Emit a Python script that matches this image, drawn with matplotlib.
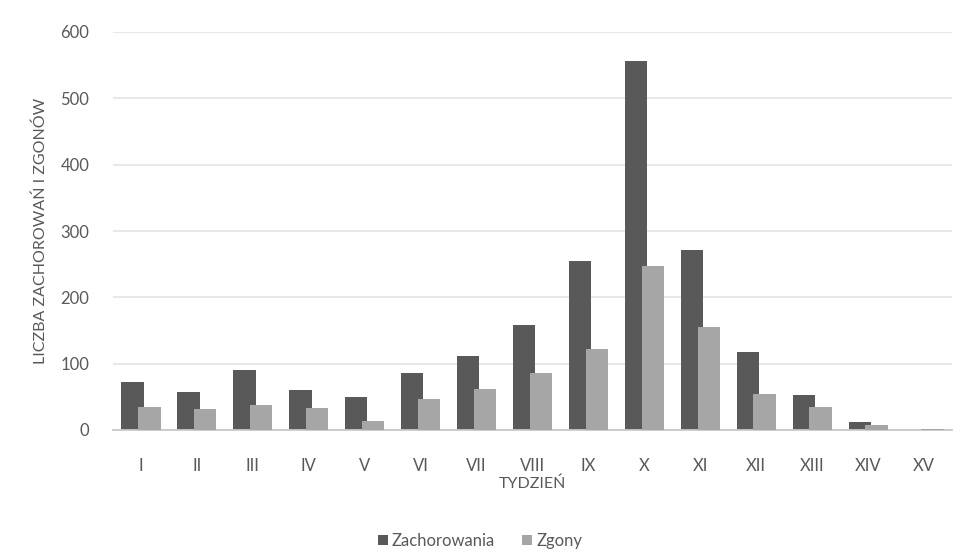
import matplotlib.pyplot as plt
import numpy as np

# weekly data
weeks = ["I", "II", "III", "IV", "V", "VI", "VII", "VIII", "IX", "X",
         "XI", "XII", "XIII", "XIV", "XV"]
zachorowania = [73, 58, 90, 60, 50, 86, 112, 159, 255, 557, 272, 117, 53, 12, 0]
zgony = [35, 32, 38, 33, 13, 46, 62, 86, 122, 247, 155, 55, 34, 8, 2]

plt.rcParams['font.family'] = ['Lato', 'DejaVu Sans']
txt = "#595959"

fig = plt.figure(figsize=(9.66, 5.52), dpi=100)
ax = fig.add_axes([113/966, 1 - 430/552, (952 - 113)/966, (430 - 32)/552])

x = np.arange(len(weeks))
w = 0.4
ax.bar(x - 0.15, zachorowania, w, color="#595959", label="Zachorowania", zorder=2)
ax.bar(x + 0.15, zgony, w, color="#a6a6a6", label="Zgony", zorder=3)

ax.set_xlim(-0.5, len(weeks) - 0.5)
ax.set_ylim(0, 600)
ax.set_yticks(range(0, 601, 100))
ax.yaxis.grid(True, color="#e6e6e6", linewidth=1.3, zorder=0)
ax.set_axisbelow(True)

for s in ["top", "right", "left"]:
    ax.spines[s].set_visible(False)
ax.spines["bottom"].set_color("#c8c8c8")
ax.spines["bottom"].set_linewidth(1.3)

ax.set_xticks(x)
ax.set_xticklabels(weeks)
ax.tick_params(axis="both", length=0, labelsize=12, labelcolor=txt)
ax.tick_params(axis="x", pad=20)
ax.tick_params(axis="y", pad=17)

ax.set_xlabel("TYDZIEŃ", fontsize=11.5, color=txt, labelpad=2)
ax.set_ylabel("LICZBA ZACHOROWAŃ I ZGONÓW", fontsize=11.5, color=txt, labelpad=9)

fig.legend(loc="center", bbox_to_anchor=(480/966, 1 - 541/552), ncol=2,
           frameon=False, fontsize=12, labelcolor=txt, handlelength=0.6,
           handleheight=0.6, handletextpad=0.25, columnspacing=1.6)

fig.savefig("out.png", dpi=100)
